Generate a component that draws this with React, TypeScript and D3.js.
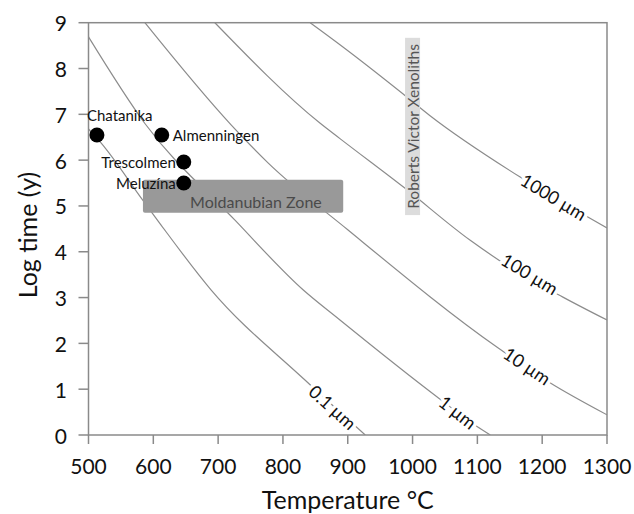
import React from 'react';
import * as d3 from 'd3';

const width = 634, height = 514;
const margin = { top: 22.7, right: 27, bottom: 79, left: 88.5 };

const xTicks = [500, 600, 700, 800, 900, 1000, 1100, 1200, 1300];
const yTicks = [0, 1, 2, 3, 4, 5, 6, 7, 8, 9];

// samples: temperature (°C), log time (y)
const sampleNames = ['Chatanika', 'Almenningen', 'Trescolmen', 'Meluzína'];
const sampleTemps = [513, 613, 647, 647];
const sampleLogs = [6.55, 6.55, 5.96, 5.5];

// diffusion length isolines [temperature, log time]
const curveNames = ['0.1 µm', '1 µm', '10 µm', '100 µm', '1000 µm'];
const curve01 = [[500, 6.68], [519, 6.38], [584, 5.12], [610, 4.62], [689, 3.17], [834, 1.2], [927, 0]];
const curve1 = [[500, 8.69], [587, 6.8], [726, 4.69], [831, 3.17], [888, 2.51], [1038, 0.83], [1100, 0.18], [1120, 0]];
const curve10 = [[587, 9], [720, 6.77], [777, 5.94], [900, 4.48], [1130, 1.92], [1212, 1.14], [1300, 0.44]];
const curve100 = [[695, 9], [857, 6.81], [888, 6.47], [988, 5.39], [1089, 4.25], [1135, 3.8], [1232, 3.01], [1300, 2.51]];
const curve1000 = [[842, 9], [888, 8.52], [985, 7.45], [1027, 6.97], [1166, 5.63], [1300, 4.52]];
const curves = [curve01, curve1, curve10, curve100, curve1000];

const labelTemps = [877, 1070, 1177, 1181, 1218];
const labelLogs = [0.61, 0.5, 1.51, 3.52, 5.2];
const labelAngles = [42, 38, 34, 31, 31];

const moldanubianTemps = [584, 893];
const moldanubianLogs = [4.85, 5.57];
const robertsTemp = 1000;
const robertsLogs = [4.8, 8.67];

const font = 'Lato, "Open Sans", sans-serif';
const axisGray = '#8a8a8a';

export default function App() {
  const x = d3.scaleLinear().domain([500, 1300]).range([margin.left, width - margin.right]);
  const y = d3.scaleLinear().domain([0, 9]).range([height - margin.bottom, margin.top]);

  const line = d3.line<number[]>()
    .x(d => x(d[0]))
    .y(d => y(d[1]))
    .curve(d3.curveMonotoneX);

  const x0 = x(500), x1 = x(1300), y0 = y(0), y1 = y(9);
  const rvx = x(robertsTemp);
  const rvTop = y(robertsLogs[1]), rvBot = y(robertsLogs[0]);

  return (
    <svg width={width} height={height} style={{ position: 'absolute', left: 0, top: 0, background: '#fff' }}
      fontFamily={font}>
      <defs>
        <clipPath id="plot">
          <rect x={x0} y={y1} width={x1 - x0} height={y0 - y1} />
        </clipPath>
      </defs>

      {/* isolines */}
      <g clipPath="url(#plot)">
        {curves.map((c, i) => (
          <path key={i} d={line(c) || ''} fill="none" stroke="#8c8c8c" strokeWidth={1.2} />
        ))}
      </g>

      {curveNames.map((name, i) => (
        <text key={name} x={x(labelTemps[i])} y={y(labelLogs[i])}
          transform={`rotate(${labelAngles[i]},${x(labelTemps[i])},${y(labelLogs[i])})`}
          textAnchor="middle" dominantBaseline="central" fontSize={18} fill="#111"
          stroke="#fff" strokeWidth={7} paintOrder="stroke" strokeLinejoin="round">
          {name}
        </text>
      ))}

      {/* Moldanubian zone */}
      <rect x={x(moldanubianTemps[0])} y={y(moldanubianLogs[1])}
        width={x(moldanubianTemps[1]) - x(moldanubianTemps[0])}
        height={y(moldanubianLogs[0]) - y(moldanubianLogs[1])}
        rx={2} fill="#999" />
      <text x={x(moldanubianTemps[0]) + 113} y={(y(moldanubianLogs[0]) + y(moldanubianLogs[1])) / 2 + 5}
        textAnchor="middle" dominantBaseline="central" fontSize={16} fill="#4a4a4a">Moldanubian Zone</text>

      {/* Roberts Victor */}
      <rect x={rvx - 7.5} y={rvTop} width={15} height={rvBot - rvTop} fill="#dcdcdc" />
      <text x={rvx} y={(rvTop + rvBot) / 2} transform={`rotate(-90,${rvx},${(rvTop + rvBot) / 2})`}
        textAnchor="middle" dominantBaseline="central" fontSize={15.5} fill="#555">Roberts Victor Xenoliths</text>

      {/* frame and axes */}
      <rect x={x0} y={y1} width={x1 - x0} height={y0 - y1} fill="none" stroke={axisGray} strokeWidth={1.5} />
      {xTicks.map(t => (
        <g key={t}>
          <line x1={x(t)} x2={x(t)} y1={y0} y2={y0 + 9} stroke={axisGray} strokeWidth={1.5} />
          <text x={x(t)} y={y0 + 39} textAnchor="middle" fontSize={21} fill="#111">{t}</text>
        </g>
      ))}
      {yTicks.map(t => (
        <g key={t}>
          <line x1={x0 - 10} x2={x0} y1={y(t)} y2={y(t)} stroke={axisGray} strokeWidth={1.5} />
          <text x={67} y={y(t)} textAnchor="end" dominantBaseline="central" fontSize={21} fill="#111">{t}</text>
        </g>
      ))}

      {/* samples */}
      {sampleNames.map((n, i) => (
        <circle key={n} cx={x(sampleTemps[i])} cy={y(sampleLogs[i])} r={7.5} fill="#000" />
      ))}
      <text x={x(sampleTemps[0]) - 10} y={y(sampleLogs[0]) - 14} fontSize={15} fill="#111">{sampleNames[0]}</text>
      <text x={x(sampleTemps[1]) + 11} y={y(sampleLogs[1])} dominantBaseline="central" fontSize={15} fill="#111">{sampleNames[1]}</text>
      <text x={x(sampleTemps[2]) - 8} y={y(sampleLogs[2])} textAnchor="end" dominantBaseline="central" fontSize={15} fill="#111">{sampleNames[2]}</text>
      <text x={x(sampleTemps[3]) - 8} y={y(sampleLogs[3])} textAnchor="end" dominantBaseline="central" fontSize={15} fill="#111">{sampleNames[3]}</text>

      {/* axis titles */}
      <text x={(x0 + x1) / 2} y={509} textAnchor="middle" fontSize={25} fill="#111">Temperature °C</text>
      <text x={27} y={235} transform="rotate(-90,27,235)" textAnchor="middle" dominantBaseline="central"
        fontSize={25} fill="#111">Log time (y)</text>
    </svg>
  );
}
